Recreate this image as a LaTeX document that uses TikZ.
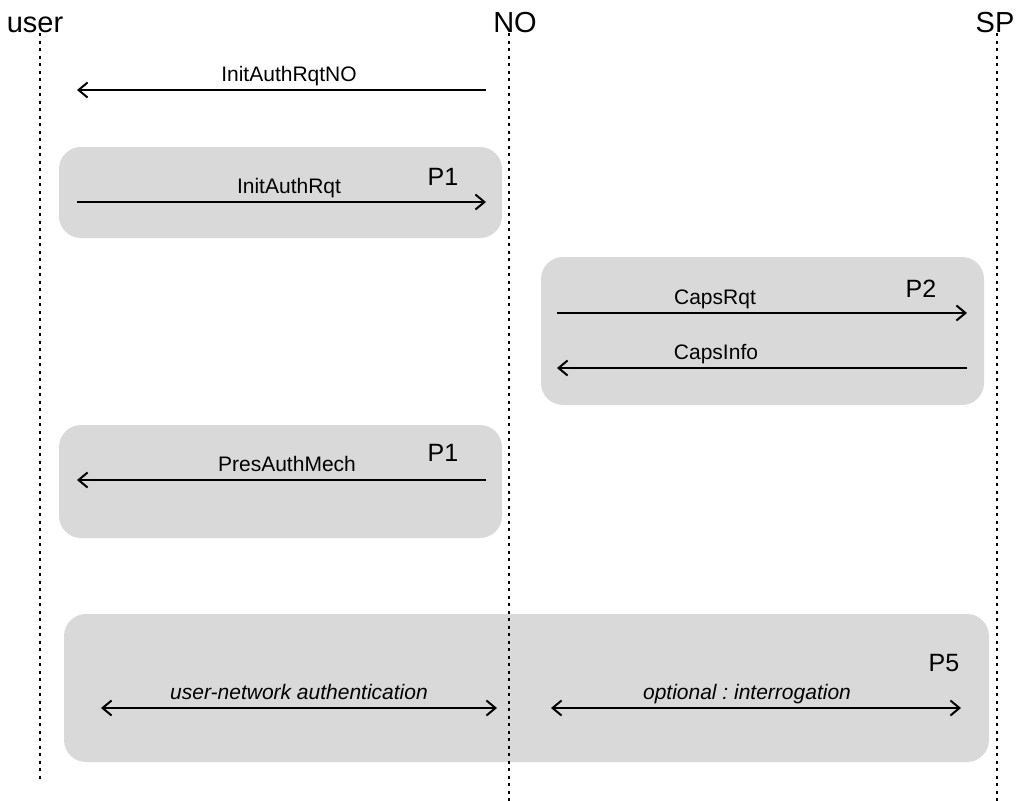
\documentclass[tikz,border=0pt]{standalone}
\usepackage{fontspec}
\setmainfont{Liberation Sans}
\usetikzlibrary{arrows.meta}
\frenchspacing

\begin{document}
\begin{tikzpicture}[x=1pt,y=-1pt,>={Straight Barb[length=9pt,width=15pt]},
  lifeline/.style={line width=2.4pt,dash pattern=on 3pt off 4.5pt},
  phase/.style={fill=black!15,rounded corners=22pt},
  msg/.style={line width=2pt},
  lbl/.style={anchor=base,font=\fontsize{21}{25}\selectfont},
  head/.style={anchor=base,font=\fontsize{29}{35}\selectfont},
  tag/.style={font=\fontsize{25}{30}\selectfont}]
  \useasboundingbox (0,0) rectangle (1018,801);
  % phase boxes
  \fill[phase] (59,147) rectangle (502,238);
  \fill[phase] (541,257) rectangle (984,405);
  \fill[phase] (59,425) rectangle (502,538);
  \fill[phase] (64,614) rectangle (989,762);
  \node[tag] (p1a) at (443,177) {P1};
  \node[tag] (p2) at (921,289) {P2};
  \node[tag] (p1b) at (443,453) {P1};
  \node[tag] (p5) at (944,663) {P5};
  % lifelines
  \node[head] (user) at (35,32) {user};
  \node[head] (no) at (515,32) {NO};
  \node[head] (sp) at (995,32) {SP};
  \coordinate (user top) at (40,33);
  \coordinate (user bot) at (40,779);
  \coordinate (no top) at (509,33);
  \coordinate (no bot) at (509,801);
  \coordinate (sp top) at (997,33);
  \coordinate (sp bot) at (997,801);
  \draw[lifeline] (user top) -- (user bot);
  \draw[lifeline] (no top) -- (no bot);
  \draw[lifeline] (sp top) -- (sp bot);
  % messages
  \coordinate (u1) at (77,90);  \coordinate (n1) at (486,90);
  \coordinate (u2) at (77,202); \coordinate (n2) at (486,202);
  \coordinate (n3) at (557,313); \coordinate (s3) at (967,313);
  \coordinate (n4) at (557,368); \coordinate (s4) at (967,368);
  \coordinate (u5) at (77,480); \coordinate (n5) at (486,480);
  \coordinate (u6) at (101,708); \coordinate (n6) at (497,708);
  \coordinate (n7) at (551,708); \coordinate (s7) at (961,708);
  \draw[msg,->] (n1) -- (u1);
  \draw[msg,->] (u2) -- (n2);
  \draw[msg,->] (n3) -- (s3);
  \draw[msg,->] (s4) -- (n4);
  \draw[msg,->] (n5) -- (u5);
  \draw[msg,<->] (u6) -- (n6);
  \draw[msg,<->] (n7) -- (s7);
  \node[lbl] (m1) at (289,81) {InitAuthRqtNO};
  \node[lbl] (m2) at (289,193) {InitAuthRqt};
  \node[lbl] (m3) at (715,304) {CapsRqt};
  \node[lbl] (m4) at (716,359) {CapsInfo};
  \node[lbl] (m5) at (287,471) {PresAuthMech};
  \node[lbl] (m6) at (299,699) {\itshape user-network authentication};
  \node[lbl] (m7) at (747,699) {\itshape optional : interrogation};
\end{tikzpicture}
\end{document}
